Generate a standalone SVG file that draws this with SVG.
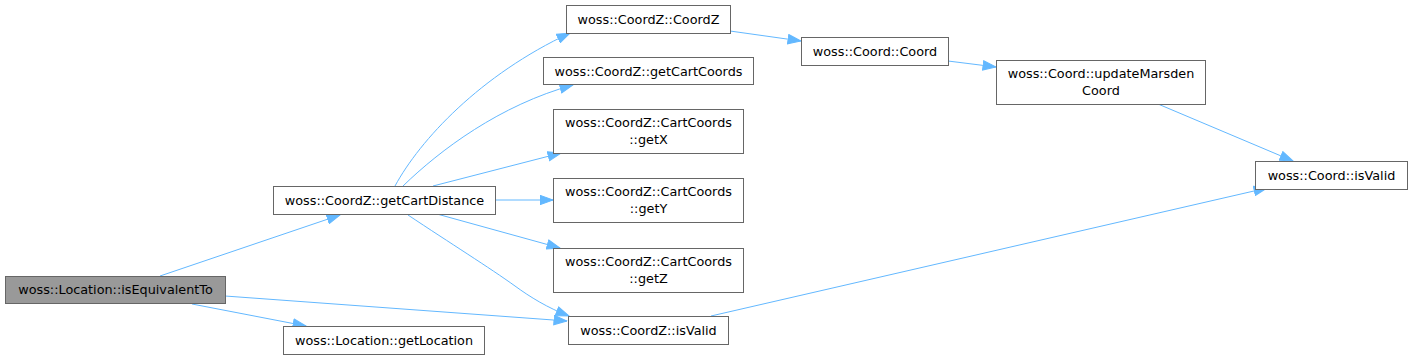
<svg xmlns="http://www.w3.org/2000/svg" width="1410" height="360" viewBox="0 0 1410 360">
<defs>
<style>
.n rect{fill:#ffffff;stroke:#666666;stroke-width:1}
.n.root rect{fill:#999999}
.n text{font-family:"DejaVu Sans","Liberation Sans",sans-serif;font-size:12.8px;fill:#000000;text-anchor:middle}
.e path{fill:none;stroke:#63b8ff;stroke-width:1;marker-end:url(#ah)}
</style>
<marker id="ah" markerUnits="userSpaceOnUse" viewBox="0 0 14 11" refX="13.5" refY="5.5" markerWidth="14" markerHeight="11" orient="auto">
<path d="M0.5,0.8 L13.5,5.5 L0.5,10.2 Z" fill="#63b8ff" stroke="#63b8ff" stroke-width="1"/>
</marker>
</defs>
<rect width="1410" height="360" fill="#ffffff"/>
<g id="edges" class="e">
<path d="M160,276 L340,215"/>
<path d="M192,304 L306,326"/>
<path d="M225,296 L567,321"/>
<path d="M395,186 C420,140 480,75 570,33"/>
<path d="M403,186 C440,150 500,105 573,85"/>
<path d="M433,186 L561,153"/>
<path d="M495,200 L553,200"/>
<path d="M437,214 L560,248"/>
<path d="M408,215 C450,243 490,268 515,286 C530,297 548,308 569,316"/>
<path d="M730,31 L801,41"/>
<path d="M948,61 L996,67"/>
<path d="M1158,104 L1293,161"/>
<path d="M711,316 L1267,188"/>
</g>
<g id="isEquivalentTo" class="n root"><rect x="5.5" y="276.5" width="220" height="27"/><text x="115.5" y="294">woss::Location::isEquivalentTo</text></g>
<g id="getCartDistance" class="n"><rect x="273.5" y="186.5" width="222" height="28"/><text x="384.5" y="205">woss::CoordZ::getCartDistance</text></g>
<g id="getLocation" class="n"><rect x="283.5" y="326.5" width="201" height="28"/><text x="384" y="345">woss::Location::getLocation</text></g>
<g id="CoordZ" class="n"><rect x="566.5" y="5.5" width="164" height="28"/><text x="648.5" y="24">woss::CoordZ::CoordZ</text></g>
<g id="getCartCoords" class="n"><rect x="543.5" y="57.5" width="210" height="27"/><text x="648.5" y="75.5">woss::CoordZ::getCartCoords</text></g>
<g id="getX" class="n"><rect x="553.5" y="109.5" width="190" height="44"/><text x="648.5" y="127">woss::CoordZ::CartCoords</text><text x="648.5" y="144">::getX</text></g>
<g id="getY" class="n"><rect x="553.5" y="178.5" width="190" height="44"/><text x="648.5" y="196">woss::CoordZ::CartCoords</text><text x="648.5" y="213">::getY</text></g>
<g id="getZ" class="n"><rect x="553.5" y="248.5" width="190" height="44"/><text x="648.5" y="266">woss::CoordZ::CartCoords</text><text x="648.5" y="283">::getZ</text></g>
<g id="CoordZ_isValid" class="n"><rect x="568.5" y="316.5" width="160" height="28"/><text x="648.5" y="335">woss::CoordZ::isValid</text></g>
<g id="Coord" class="n"><rect x="801.5" y="37.5" width="147" height="28"/><text x="875" y="56">woss::Coord::Coord</text></g>
<g id="updateMarsdenCoord" class="n"><rect x="996.5" y="60.5" width="209" height="44"/><text x="1101" y="78">woss::Coord::updateMarsden</text><text x="1101" y="95">Coord</text></g>
<g id="Coord_isValid" class="n"><rect x="1255.5" y="161.5" width="152" height="28"/><text x="1331.5" y="180">woss::Coord::isValid</text></g>
</svg>
